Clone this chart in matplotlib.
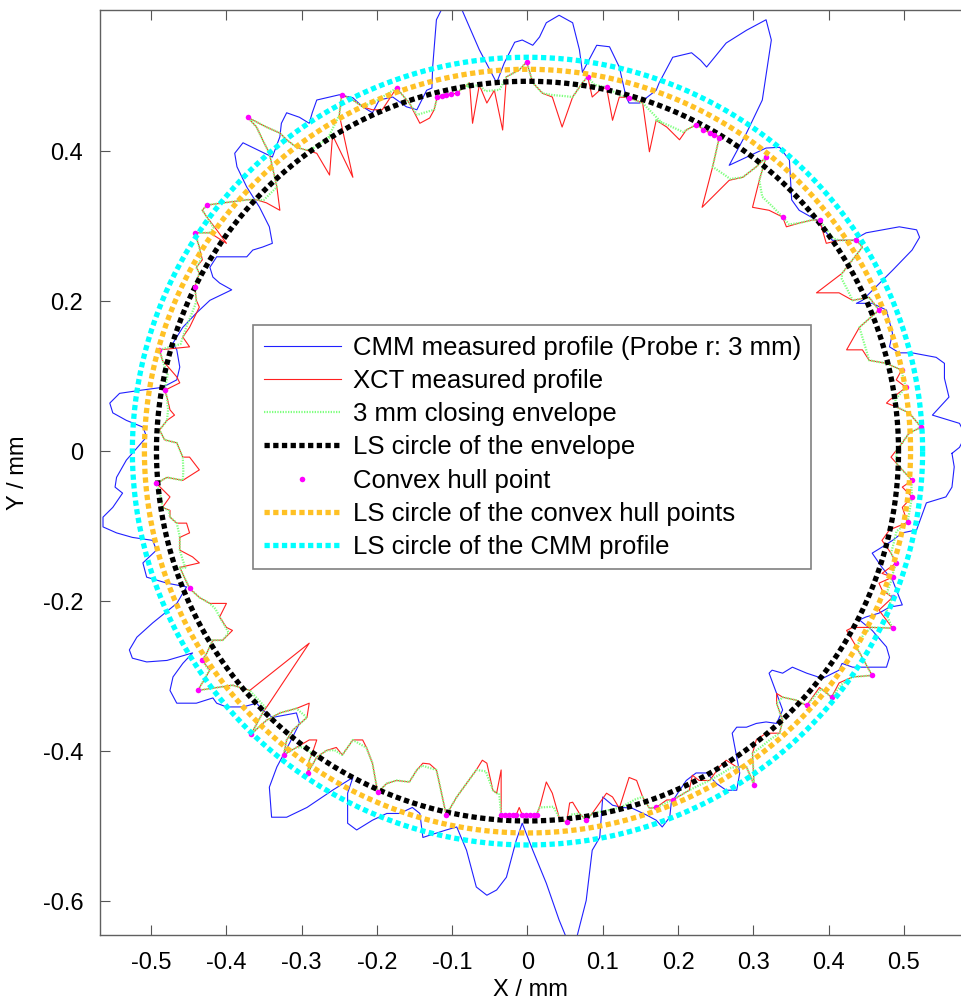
import numpy as np
import matplotlib.pyplot as plt

plt.rcParams['font.family'] = ['Liberation Sans', 'DejaVu Sans']

# ---------------------------------------------------------------
# CMM measured profile (probe r = 3 mm), mm
# ---------------------------------------------------------------
cmm_x = [0.564, 0.574, 0.582, 0.574, 0.538, 0.560, 0.554, 0.554, 0.543, 0.511,
         0.494, 0.481, 0.485, 0.477, 0.458, 0.437, 0.445, 0.463, 0.485, 0.511,
         0.521, 0.517, 0.494, 0.450, 0.432, 0.405, 0.384, 0.361, 0.351, 0.348,
         0.335, 0.317, 0.268, 0.291, 0.312, 0.324, 0.317, 0.291, 0.264, 0.238,
         0.230, 0.218, 0.193, 0.175, 0.171, 0.149, 0.135, 0.131, 0.122, 0.109,
         0.092, 0.073, 0.069, 0.060, 0.042, 0.025, 0.016, 0.007, -0.007, -0.017,
         -0.031, -0.041, -0.064, -0.077, -0.090, -0.108, -0.121, -0.126, -0.127, -0.134,
         -0.147, -0.161, -0.179, -0.197, -0.206, -0.219, -0.232, -0.250, -0.280, -0.286,
         -0.290, -0.303, -0.320, -0.327, -0.329, -0.339, -0.378, -0.389, -0.386, -0.373,
         -0.356, -0.343, -0.339, -0.352, -0.365, -0.373, -0.396, -0.413, -0.422, -0.418,
         -0.409, -0.393, -0.422, -0.440, -0.458, -0.471, -0.466, -0.462, -0.466, -0.485,
         -0.515, -0.542, -0.555, -0.551, -0.533, -0.511, -0.506, -0.513, -0.533, -0.546,
         -0.548, -0.538, -0.551, -0.564, -0.564, -0.546, -0.525, -0.498, -0.493, -0.511,
         -0.506, -0.479, -0.453, -0.466, -0.498, -0.519, -0.529, -0.525, -0.506, -0.479,
         -0.445, -0.458, -0.471, -0.475, -0.466, -0.440, -0.418, -0.413, -0.400, -0.378,
         -0.360, -0.352, -0.339, -0.307, -0.303, -0.316, -0.333, -0.343, -0.340, -0.320,
         -0.293, -0.259, -0.232, -0.239, -0.239, -0.227, -0.206, -0.187, -0.170, -0.153,
         -0.143, -0.139, -0.130, -0.108, -0.094, -0.081, -0.068, -0.054, -0.041, -0.028,
         -0.015, -0.007, 0.007, 0.025, 0.042, 0.053, 0.065, 0.078, 0.086, 0.096,
         0.100, 0.113, 0.126, 0.139, 0.158, 0.171, 0.179, 0.189, 0.191, 0.211,
         0.224, 0.238, 0.251, 0.264, 0.278, 0.282, 0.278, 0.272, 0.278, 0.291,
         0.304, 0.317, 0.331, 0.339, 0.331, 0.321, 0.325, 0.339, 0.352, 0.371,
         0.392, 0.414, 0.418, 0.432, 0.454, 0.477, 0.481, 0.477, 0.458, 0.441,
         0.450, 0.467, 0.481, 0.498, 0.494, 0.485, 0.471, 0.458, 0.471, 0.485,
         0.498, 0.517, 0.525, 0.530, 0.556, 0.564, 0.567, 0.564]
cmm_y = [-0.003, 0.005, 0.021, 0.037, 0.048, 0.072, 0.097, 0.117, 0.125, 0.131,
         0.131, 0.139, 0.157, 0.188, 0.197, 0.197, 0.201, 0.219, 0.241, 0.268,
         0.285, 0.295, 0.299, 0.291, 0.281, 0.281, 0.308, 0.321, 0.335, 0.388,
         0.405, 0.404, 0.381, 0.424, 0.468, 0.548, 0.575, 0.561, 0.544, 0.512,
         0.521, 0.531, 0.525, 0.491, 0.481, 0.464, 0.464, 0.472, 0.512, 0.539,
         0.541, 0.505, 0.535, 0.571, 0.581, 0.571, 0.552, 0.541, 0.548, 0.545,
         0.517, 0.491, 0.535, 0.565, 0.595, 0.601, 0.575, 0.512, 0.484, 0.481,
         0.455, 0.459, 0.472, 0.468, 0.451, 0.459, 0.471, 0.475, 0.468, 0.451,
         0.437, 0.445, 0.451, 0.437, 0.419, 0.392, 0.411, 0.397, 0.379, 0.352,
         0.325, 0.299, 0.277, 0.272, 0.268, 0.259, 0.259, 0.259, 0.245, 0.232,
         0.224, 0.215, 0.201, 0.184, 0.165, 0.144, 0.135, 0.112, 0.095, 0.085,
         0.081, 0.077, 0.064, 0.051, 0.041, 0.032, 0.019, 0.011, -0.012, -0.035,
         -0.048, -0.056, -0.075, -0.088, -0.101, -0.109, -0.115, -0.119, -0.132, -0.149,
         -0.168, -0.176, -0.181, -0.203, -0.229, -0.248, -0.265, -0.276, -0.281, -0.279,
         -0.269, -0.283, -0.301, -0.319, -0.336, -0.336, -0.329, -0.336, -0.341, -0.341,
         -0.336, -0.345, -0.355, -0.349, -0.363, -0.389, -0.421, -0.448, -0.488, -0.488,
         -0.475, -0.452, -0.435, -0.456, -0.496, -0.505, -0.492, -0.483, -0.483, -0.475,
         -0.483, -0.515, -0.512, -0.505, -0.501, -0.532, -0.581, -0.592, -0.585, -0.568,
         -0.519, -0.496, -0.532, -0.576, -0.625, -0.652, -0.650, -0.599, -0.532, -0.515,
         -0.461, -0.472, -0.475, -0.476, -0.485, -0.492, -0.501, -0.488, -0.469, -0.439,
         -0.429, -0.429, -0.443, -0.452, -0.452, -0.429, -0.408, -0.376, -0.368, -0.368,
         -0.363, -0.361, -0.363, -0.345, -0.323, -0.296, -0.292, -0.296, -0.288, -0.296,
         -0.303, -0.292, -0.283, -0.288, -0.288, -0.288, -0.275, -0.261, -0.239, -0.225,
         -0.221, -0.216, -0.208, -0.205, -0.195, -0.172, -0.155, -0.136, -0.128, -0.119,
         -0.109, -0.105, -0.083, -0.069, -0.061, -0.048, -0.021, -0.003]

# ---------------------------------------------------------------
# XCT measured profile, mm
# ---------------------------------------------------------------
xct_x = [0.498, 0.507, 0.523, 0.507, 0.490, 0.477, 0.481, 0.503, 0.490, 0.497,
         0.477, 0.454, 0.445, 0.424, 0.441, 0.467, 0.454, 0.432, 0.414, 0.384,
         0.418, 0.445, 0.437, 0.414, 0.397, 0.388, 0.378, 0.361, 0.344, 0.339,
         0.321, 0.299, 0.308, 0.317, 0.304, 0.286, 0.268, 0.232, 0.246, 0.255,
         0.242, 0.224, 0.211, 0.202, 0.185, 0.171, 0.162, 0.153, 0.135, 0.122,
         0.113, 0.105, 0.096, 0.086, 0.080, 0.073, 0.060, 0.046, 0.033, 0.020,
         0.007, -0.001, -0.011, -0.028, -0.033, -0.044, -0.054, -0.064, -0.073, -0.077,
         -0.094, -0.108, -0.120, -0.124, -0.130, -0.143, -0.157, -0.174, -0.193, -0.206,
         -0.219, -0.232, -0.247, -0.250, -0.232, -0.259, -0.263, -0.280, -0.293, -0.307,
         -0.320, -0.329, -0.347, -0.372, -0.360, -0.352, -0.343, -0.339, -0.333, -0.329,
         -0.347, -0.360, -0.373, -0.426, -0.432, -0.426, -0.413, -0.400, -0.422, -0.442,
         -0.436, -0.432, -0.440, -0.436, -0.442, -0.440, -0.436, -0.449, -0.458, -0.449,
         -0.489, -0.485, -0.466, -0.462, -0.482, -0.479, -0.475, -0.469, -0.479, -0.489,
         -0.482, -0.466, -0.458, -0.449, -0.436, -0.458, -0.479, -0.493, -0.475, -0.485,
         -0.475, -0.475, -0.466, -0.453, -0.449, -0.462, -0.462, -0.445, -0.436, -0.462,
         -0.449, -0.436, -0.422, -0.400, -0.409, -0.400, -0.392, -0.405, -0.418, -0.426,
         -0.432, -0.422, -0.438, -0.392, -0.369, -0.290, -0.343, -0.352, -0.367, -0.347,
         -0.329, -0.307, -0.290, -0.293, -0.312, -0.320, -0.324, -0.307, -0.290, -0.280,
         -0.286, -0.290, -0.292, -0.280, -0.267, -0.254, -0.246, -0.232, -0.219, -0.214,
         -0.206, -0.199, -0.187, -0.174, -0.157, -0.147, -0.139, -0.130, -0.121, -0.117,
         -0.108, -0.094, -0.081, -0.068, -0.060, -0.054, -0.046, -0.041, -0.035, -0.035,
         -0.024, -0.015, -0.011, -0.007, 0.003, 0.012, 0.016, 0.025, 0.033, 0.042,
         0.052, 0.056, 0.060, 0.069, 0.078, 0.086, 0.105, 0.113, 0.122, 0.135,
         0.145, 0.153, 0.162, 0.171, 0.185, 0.193, 0.215, 0.219, 0.228, 0.242,
         0.255, 0.264, 0.278, 0.291, 0.301, 0.299, 0.304, 0.317, 0.335, 0.339,
         0.331, 0.331, 0.339, 0.357, 0.371, 0.388, 0.404, 0.414, 0.432, 0.458,
         0.454, 0.437, 0.424, 0.432, 0.458, 0.485, 0.467, 0.485, 0.471, 0.467,
         0.485, 0.471, 0.490, 0.483, 0.471, 0.481, 0.505, 0.498, 0.511, 0.498,
         0.511, 0.498, 0.490, 0.483, 0.490]
xct_y = [0.011, 0.024, 0.032, 0.051, 0.059, 0.064, 0.068, 0.085, 0.095, 0.108,
         0.117, 0.121, 0.135, 0.135, 0.165, 0.188, 0.205, 0.201, 0.211, 0.211,
         0.237, 0.272, 0.281, 0.281, 0.277, 0.308, 0.308, 0.304, 0.299, 0.312,
         0.321, 0.325, 0.361, 0.392, 0.379, 0.365, 0.361, 0.325, 0.379, 0.419,
         0.424, 0.435, 0.428, 0.415, 0.432, 0.441, 0.399, 0.464, 0.471, 0.472,
         0.441, 0.485, 0.481, 0.472, 0.499, 0.491, 0.472, 0.432, 0.472, 0.477,
         0.491, 0.519, 0.508, 0.499, 0.428, 0.481, 0.464, 0.488, 0.437, 0.491,
         0.477, 0.475, 0.472, 0.455, 0.444, 0.437, 0.464, 0.484, 0.455, 0.455,
         0.459, 0.468, 0.475, 0.448, 0.365, 0.421, 0.368, 0.397, 0.401, 0.405,
         0.415, 0.424, 0.432, 0.445, 0.432, 0.415, 0.397, 0.379, 0.352, 0.321,
         0.331, 0.335, 0.335, 0.328, 0.321, 0.312, 0.295, 0.277, 0.291, 0.291,
         0.272, 0.255, 0.245, 0.237, 0.219, 0.201, 0.192, 0.165, 0.152, 0.139,
         0.135, 0.121, 0.099, 0.091, 0.081, 0.072, 0.055, 0.048, 0.041, 0.028,
         0.015, 0.011, -0.008, -0.008, -0.025, -0.039, -0.035, -0.043, -0.061, -0.075,
         -0.079, -0.088, -0.096, -0.096, -0.109, -0.115, -0.132, -0.141, -0.149, -0.155,
         -0.183, -0.195, -0.203, -0.203, -0.221, -0.235, -0.239, -0.252, -0.252, -0.269,
         -0.279, -0.292, -0.319, -0.312, -0.319, -0.256, -0.336, -0.349, -0.377, -0.359,
         -0.349, -0.343, -0.336, -0.355, -0.372, -0.385, -0.405, -0.395, -0.385, -0.385,
         -0.403, -0.412, -0.429, -0.408, -0.399, -0.395, -0.405, -0.385, -0.385, -0.395,
         -0.416, -0.455, -0.443, -0.439, -0.441, -0.425, -0.416, -0.417, -0.425, -0.443,
         -0.485, -0.461, -0.443, -0.425, -0.412, -0.416, -0.452, -0.456, -0.425, -0.485,
         -0.485, -0.485, -0.475, -0.485, -0.485, -0.485, -0.475, -0.441, -0.456, -0.488,
         -0.495, -0.469, -0.468, -0.483, -0.492, -0.483, -0.456, -0.461, -0.476, -0.435,
         -0.439, -0.461, -0.476, -0.475, -0.465, -0.465, -0.452, -0.432, -0.439, -0.439,
         -0.421, -0.412, -0.421, -0.421, -0.445, -0.403, -0.385, -0.376, -0.376, -0.359,
         -0.336, -0.323, -0.328, -0.332, -0.339, -0.315, -0.328, -0.309, -0.301, -0.299,
         -0.292, -0.261, -0.239, -0.235, -0.235, -0.236, -0.212, -0.195, -0.185, -0.176,
         -0.168, -0.163, -0.149, -0.136, -0.119, -0.105, -0.095, -0.075, -0.061, -0.048,
         -0.039, -0.025, -0.016, -0.008, 0.001]

# ---------------------------------------------------------------
# convex hull points of the XCT profile, mm
# ---------------------------------------------------------------
hull_x = [0.523, 0.503, 0.497, 0.467, 0.437, 0.388, 0.339, 0.317, 0.255, 0.248,
          0.242, 0.233, 0.224, 0.135, 0.105, 0.080, -0.001, -0.094, -0.101, -0.108,
          -0.114, -0.120, -0.174, -0.247, -0.372, -0.426, -0.442, -0.442, -0.489, -0.482,
          -0.493, -0.449, -0.432, -0.438, -0.367, -0.324, -0.292, -0.199, -0.108, -0.035,
          -0.030, -0.024, -0.019, -0.015, -0.007, -0.002, 0.003, 0.008, 0.012, 0.052,
          0.078, 0.171, 0.193, 0.301, 0.371, 0.404, 0.458, 0.485, 0.485, 0.485,
          0.490, 0.505, 0.511, 0.511]
hull_y = [0.032, 0.085, 0.108, 0.188, 0.281, 0.308, 0.312, 0.392, 0.418, 0.421,
          0.424, 0.428, 0.435, 0.471, 0.485, 0.499, 0.519, 0.477, 0.476, 0.475,
          0.474, 0.472, 0.484, 0.475, 0.445, 0.328, 0.291, 0.219, 0.135, 0.081,
          -0.043, -0.183, -0.279, -0.319, -0.377, -0.405, -0.429, -0.455, -0.485, -0.485,
          -0.485, -0.485, -0.485, -0.485, -0.485, -0.485, -0.485, -0.485, -0.485, -0.495,
          -0.492, -0.475, -0.465, -0.445, -0.339, -0.328, -0.299, -0.236, -0.195, -0.168,
          -0.149, -0.095, -0.061, -0.039]

# least squares circle radii (centre at origin), mm
ls_env_r = 0.493
ls_hull_r = 0.509
ls_cmm_r = 0.525

labels = ['CMM measured profile (Probe r: 3 mm)', 'XCT measured profile',
          '3 mm closing envelope', 'LS circle of the envelope', 'Convex hull point',
          'LS circle of the convex hull points', 'LS circle of the CMM profile']

x_ticks = [-0.5, -0.4, -0.3, -0.2, -0.1, 0, 0.1, 0.2, 0.3, 0.4, 0.5]
x_ticklabels = ['-0.5', '-0.4', '-0.3', '-0.2', '-0.1', '0', '0.1', '0.2', '0.3', '0.4', '0.5']
y_ticks = [-0.6, -0.4, -0.2, 0, 0.2, 0.4]
y_ticklabels = ['-0.6', '-0.4', '-0.2', '0', '0.2', '0.4']

# closed curves
cx = np.append(cmm_x, cmm_x[0])
cy = np.append(cmm_y, cmm_y[0])
xx = np.append(xct_x, xct_x[0])
xy = np.append(xct_y, xct_y[0])

# closing envelope of the XCT profile (radial dilation followed by erosion)
th = np.arctan2(xct_y, xct_x)
rr = np.hypot(xct_x, xct_y)
n = len(rr)
w = 1
dil = np.array([rr[[(i + k) % n for k in range(-w, w + 1)]].max() for i in range(n)])
clo = np.array([dil[[(i + k) % n for k in range(-w, w + 1)]].min() for i in range(n)])
ex = np.append(clo * np.cos(th), clo[0] * np.cos(th[0]))
ey = np.append(clo * np.sin(th), clo[0] * np.sin(th[0]))

phi = np.linspace(0, 2 * np.pi, 721)
dots = (0, (1, 0.65))

fig = plt.figure(figsize=(9.61, 10.05), dpi=100)
ax = fig.add_axes([100 / 961, 70 / 1005, 861 / 961, 925 / 1005])

ax.plot(cx, cy, color='#2020ff', lw=0.8, label=labels[0])
ax.plot(xx, xy, color='#ff2020', lw=0.8, label=labels[1])
ax.plot(ex, ey, color='#80ff80', lw=1.6, ls=(0, (0.6, 0.6)), label=labels[2])
ax.plot(ls_env_r * np.cos(phi), ls_env_r * np.sin(phi), color='black', lw=3.8,
        ls=dots, label=labels[3])
ax.plot(hull_x, hull_y, ls='none', marker='o', ms=4, mec='none', color='#ff00ff',
        label=labels[4])
ax.plot(ls_hull_r * np.cos(phi), ls_hull_r * np.sin(phi), color='#ffc125', lw=3.8,
        ls=dots, label=labels[5])
ax.plot(ls_cmm_r * np.cos(phi), ls_cmm_r * np.sin(phi), color='#00ffff', lw=3.8,
        ls=dots, label=labels[6])

ax.set_xlim(-0.568, 0.576)
ax.set_ylim(-0.645, 0.588)
ax.set_xticks(x_ticks)
ax.set_xticklabels(x_ticklabels)
ax.set_yticks(y_ticks)
ax.set_yticklabels(y_ticklabels)
ax.tick_params(direction='in', length=7, width=0.8, color='#555555', labelsize=17,
               top=True, pad=12)
ax.spines['right'].set_visible(False)
for s in ['left', 'bottom', 'top']:
    ax.spines[s].set_color('#606060')
    ax.spines[s].set_linewidth(1.0)

ax.set_xlabel('X / mm', fontsize=17, labelpad=4)
ax.set_ylabel('Y / mm', fontsize=17, labelpad=10)

leg = ax.legend(loc='upper left', bbox_to_anchor=(0.178, 0.659), borderaxespad=0,
                fontsize=18.5, numpoints=1, handlelength=3.0, handletextpad=0.47,
                labelspacing=0.36, fancybox=False, framealpha=1, borderpad=0.4)
leg.get_frame().set_edgecolor('#808080')
leg.get_frame().set_linewidth(1.2)

fig.savefig('out.png', dpi=100)
